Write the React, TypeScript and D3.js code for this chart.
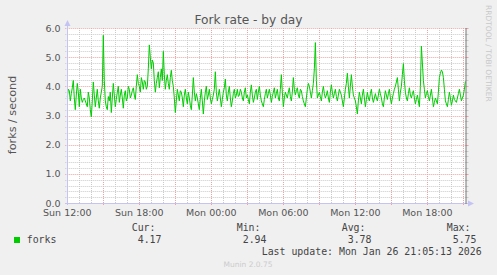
import React from 'react';
import * as d3 from 'd3';

const W = 497;
const H = 275;

const title = 'Fork rate - by day';
const yAxisLabel = 'forks / second';
const watermark = 'RRDTOOL / TOBI OETIKER';
const footer = 'Munin 2.0.75';
const yTickValues = [0, 1, 2, 3, 4, 5, 6];
const xTickLabels = ['Sun 12:00', 'Sun 18:00', 'Mon 00:00', 'Mon 06:00', 'Mon 12:00', 'Mon 18:00'];
const seriesName = 'forks';
const legendHeaders = ['Cur:', 'Min:', 'Avg:', 'Max:'];
const legendValues = ['4.17', '2.94', '3.78', '5.75'];
const lastUpdate = 'Last update: Mon Jan 26 21:05:13 2026';

// samples every 5 minutes starting Sun 12:00
const startTime = Date.UTC(2026, 0, 25, 12, 0, 0);
const endTime = Date.UTC(2026, 0, 26, 21, 13, 0);
const stepMinutes = 5;
const forks = [
  3.64, 3.9, 3.85, 3.5, 3.75, 3.95, 4.2, 3.6, 3.2, 3.7, 4.1, 3.8, 3.3, 3.9, 3.6, 3.45, 3.55, 3.6, 3.5, 3.4,
  3.3, 3.8, 3.6, 3.2, 2.95, 3.5, 4.15, 3.7, 3.3, 3.6, 3.9, 3.5, 3.25, 3.6, 3.8, 4.0, 5.75, 4.2, 3.5, 3.3,
  3.2, 3.65, 3.5, 3.8, 3.1, 3.6, 4.1, 3.7, 3.3, 3.55, 3.8, 4.0, 3.45, 3.7, 3.9, 3.6, 3.25, 3.7, 3.85, 3.5,
  3.6, 4.0, 3.9, 3.6, 3.7, 3.85, 3.95, 3.7, 3.55, 4.0, 4.4, 4.1, 4.0, 3.8, 4.3, 4.15, 3.9, 4.2, 4.15, 3.9,
  4.0, 4.6, 5.42, 5.0, 4.6, 4.9, 4.8, 4.2, 3.8, 4.1, 4.3, 4.5, 3.95, 4.3, 4.6, 4.2, 5.2, 4.4, 3.9, 4.2,
  4.4, 4.1, 3.9, 4.3, 4.55, 4.2, 4.0, 3.6, 3.1, 3.5, 3.9, 3.7, 3.5, 3.85, 3.8, 3.6, 3.3, 3.7, 3.9, 3.6,
  3.4, 3.8, 3.6, 3.35, 3.2, 3.7, 4.3, 3.8, 3.5, 3.75, 3.6, 3.4, 3.2, 3.6, 3.9, 3.5, 3.05, 3.5, 3.8, 4.0,
  3.55, 3.7, 3.9, 3.6, 3.4, 3.55, 3.7, 3.9, 4.5, 3.8, 3.5, 3.7, 3.9, 3.6, 3.3, 3.55, 3.8, 3.95, 4.25, 3.7,
  3.5, 3.8, 4.0, 3.6, 3.3, 3.5, 3.75, 3.9, 3.6, 3.7, 3.9, 3.65, 3.7, 3.9, 3.8, 3.6, 3.5, 3.8, 3.95, 3.6,
  3.7, 3.55, 3.4, 3.8, 4.05, 3.7, 3.45, 3.6, 3.8, 3.9, 3.55, 3.8, 4.0, 3.7, 3.5, 3.4, 3.3, 3.55, 3.75, 3.9,
  3.6, 3.75, 3.9, 3.7, 3.45, 3.65, 3.8, 3.95, 3.6, 3.75, 3.9, 3.6, 3.5, 3.9, 4.4, 3.8, 3.3, 3.6, 3.8, 3.7,
  3.6, 3.8, 3.95, 3.65, 3.5, 3.8, 4.3, 3.9, 3.7, 3.85, 3.95, 3.7, 3.6, 3.9, 3.85, 3.65, 3.5, 3.4, 3.3, 3.6,
  3.9, 4.1, 4.0, 3.8, 3.6, 3.85, 4.1, 4.6, 5.5, 4.2, 3.6, 3.7, 3.8, 3.65, 3.5, 3.8, 4.0, 3.75, 3.6, 3.7,
  3.85, 3.6, 3.45, 3.8, 4.05, 3.8, 3.6, 3.75, 3.9, 3.65, 3.5, 3.7, 3.9, 3.8, 3.7, 3.5, 3.3, 3.6, 3.9, 4.1,
  4.45, 4.0, 3.6, 4.0, 4.4, 4.0, 3.7, 3.6, 3.5, 3.3, 3.05, 3.5, 3.8, 3.6, 3.4, 3.7, 3.9, 3.6, 3.3, 3.55,
  3.8, 3.6, 3.5, 3.75, 3.9, 3.6, 3.45, 3.6, 3.75, 3.6, 3.5, 3.7, 3.9, 3.75, 3.6, 3.4, 3.3, 3.6, 3.85, 3.7,
  3.55, 3.75, 3.9, 3.6, 3.4, 3.6, 3.75, 3.9, 4.0, 4.15, 4.3, 3.9, 3.5, 3.8, 4.0, 4.4, 4.78, 4.2, 3.8, 3.6,
  3.5, 3.75, 3.95, 3.7, 3.6, 3.75, 3.85, 3.6, 3.4, 3.55, 3.7, 3.5, 3.3, 4.0, 5.38, 4.8, 4.2, 3.9, 3.6, 3.75,
  3.85, 3.65, 3.5, 3.7, 3.9, 3.6, 3.3, 3.45, 3.6, 3.5, 3.4, 3.8, 4.3, 4.45, 4.56, 4.5, 4.3, 3.9, 3.5, 3.4,
  3.3, 3.55, 3.8, 3.6, 3.35, 3.5, 3.7, 3.55, 3.5, 3.45, 3.6, 3.75, 3.9, 3.7, 3.5, 3.6, 3.7, 3.9, 4.17,
];

const PLOT_L = 67.3;
const PLOT_R = 466;
const PLOT_T = 28;
const PLOT_B = 203;

const MONO = '"DejaVu Sans Mono", monospace';
const SANS = '"DejaVu Sans", sans-serif';

export default function App() {
  const x = d3.scaleUtc().domain([startTime, endTime]).range([PLOT_L, PLOT_R]);
  const y = d3.scaleLinear().domain([0, 6]).range([PLOT_B, PLOT_T]);
  const px = (v: number) => Math.round(v) + 0.5;

  const points: [number, number][] = forks.map((v, i) => [startTime + i * stepMinutes * 60000, v]);
  const line = d3
    .line<[number, number]>()
    .x((d) => x(d[0]))
    .y((d) => y(d[1]));

  const hours = d3.utcHour.range(new Date(startTime), new Date(endTime));
  const minorY = d3.range(0, 31).map((i) => i * 0.2);
  const fmt = d3.utcFormat('%a %H:%M');
  const labelTimes = hours.filter((h) => h.getUTCHours() % 6 === 0);

  const minorColor = '#cacaca';
  const majorColor = '#eba3a3';
  const axisColor = '#c4c4f4';

  const legendX = [131.7, 236.7, 341.7, 446.7];

  return (
    <svg
      width={W}
      height={H}
      style={{ position: 'absolute', left: 0, top: 0, display: 'block' }}
      xmlns="http://www.w3.org/2000/svg"
    >
      <rect x={0} y={0} width={W} height={H} fill="#f0f0f0" />
      <rect x={PLOT_L} y={PLOT_T} width={PLOT_R - PLOT_L} height={PLOT_B - PLOT_T} fill="#ffffff" />

      {/* vertical grid */}
      {hours.map((h, i) => {
        const major = h.getUTCHours() % 3 === 0;
        const xx = px(x(h));
        return (
          <line
            key={'vg' + i}
            x1={xx}
            x2={xx}
            y1={PLOT_T}
            y2={major ? PLOT_B + 2 : PLOT_B}
            stroke={major ? majorColor : minorColor}
            strokeWidth={1}
            strokeDasharray="1 1"
          />
        );
      })}
      {/* horizontal grid */}
      {minorY.map((v, i) => {
        const major = i % 5 === 0;
        const yy = px(y(v));
        return (
          <g key={'hg' + i}>
            <line
              x1={PLOT_L - 2}
              x2={PLOT_R}
              y1={yy}
              y2={yy}
              stroke={major ? majorColor : minorColor}
              strokeWidth={1}
              strokeDasharray="1 1"
            />
            <line x1={PLOT_R} x2={PLOT_R + 2.5} y1={yy} y2={yy} stroke={major ? majorColor : minorColor} strokeWidth={1} />
          </g>
        );
      })}

      {/* data */}
      <path d={line(points) ?? ''} fill="none" stroke="#00cc00" strokeWidth={1} />

      {/* axes */}
      <line x1={px(PLOT_L)} x2={px(PLOT_L)} y1={PLOT_B + 2} y2={PLOT_T - 4} stroke={axisColor} strokeWidth={1} />
      <path d={`M${px(PLOT_L) - 3},${PLOT_T - 2} L${px(PLOT_L) + 3},${PLOT_T - 2} L${px(PLOT_L)},${PLOT_T - 8} Z`} fill={axisColor} />
      <line x1={PLOT_L - 2} x2={PLOT_R + 4} y1={px(PLOT_B)} y2={px(PLOT_B)} stroke={axisColor} strokeWidth={1} />
      <path d={`M${PLOT_R + 2},${px(PLOT_B) - 3} L${PLOT_R + 2},${px(PLOT_B) + 3} L${PLOT_R + 8},${px(PLOT_B)} Z`} fill={axisColor} />
      <line x1={PLOT_R} x2={PLOT_R} y1={PLOT_T} y2={PLOT_B + 1} stroke="#777777" strokeWidth={1} />

      {/* y tick labels */}
      {yTickValues.map((v) => (
        <text
          key={'yl' + v}
          x={60.5}
          y={y(v) + 3.5}
          textAnchor="end"
          fontFamily={SANS}
          fontSize={9.5}
          fill="#555555"
        >
          {v.toFixed(1)}
        </text>
      ))}
      {/* x tick labels */}
      {labelTimes.map((t, i) => (
        <text
          key={'xl' + i}
          x={x(t)}
          y={216}
          textAnchor="middle"
          fontFamily={SANS}
          fontSize={9.5}
          fill="#555555"
        >
          {xTickLabels[i] ?? fmt(t)}
        </text>
      ))}

      {/* title */}
      <text x={248.5} y={24} textAnchor="middle" fontFamily={SANS} fontSize={12.2} fill="#555555">
        {title}
      </text>
      {/* y axis label */}
      <text
        transform="translate(16,115) rotate(-90)"
        textAnchor="middle"
        fontFamily={SANS}
        fontSize={11.2}
        fill="#555555"
      >
        {yAxisLabel}
      </text>
      {/* watermark */}
      <text
        transform="translate(485.5,5) rotate(90)"
        textAnchor="start"
        fontFamily={SANS}
        fontSize={7.5}
        fill="#c8c8c8"
      >
        {watermark}
      </text>

      {/* legend */}
      <rect x={14} y={237} width={6} height={6} fill="#00cc00" />
      <text x={26.7} y={243} fontFamily={MONO} fontSize={9.9} fill="#444444">
        {seriesName}
      </text>
      {legendHeaders.map((h, i) => (
        <text key={'lh' + i} x={legendX[i]} y={231} fontFamily={MONO} fontSize={9.9} fill="#444444">
          {h}
        </text>
      ))}
      {legendValues.map((v, i) => (
        <text key={'lv' + i} x={legendX[i] + 6} y={243} fontFamily={MONO} fontSize={9.9} fill="#444444">
          {v}
        </text>
      ))}
      <text x={261.7} y={254.5} fontFamily={MONO} fontSize={9.9} fill="#444444">
        {lastUpdate}
      </text>
      <text x={248} y={267} textAnchor="middle" fontFamily={SANS} fontSize={7.5} fill="#cccccc">
        {footer}
      </text>
    </svg>
  );
}
